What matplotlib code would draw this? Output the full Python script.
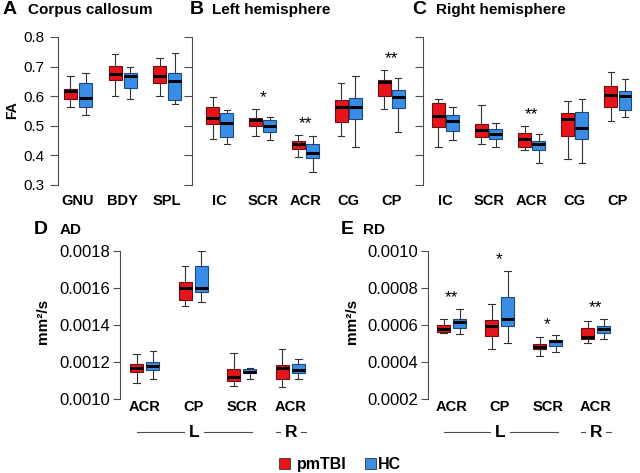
import matplotlib
matplotlib.use("Agg")
import matplotlib.pyplot as plt
from matplotlib.patches import Rectangle

plt.rcParams['font.family'] = ['Liberation Sans', 'DejaVu Sans']

# box stats per group: (whisker low, q1, median, q3, whisker high)
cc_labels = ["GNU", "BDY", "SPL"]
cc_pmtbi = [(0.564, 0.592, 0.618, 0.626, 0.667),
            (0.602, 0.654, 0.674, 0.702, 0.744),
            (0.602, 0.645, 0.667, 0.701, 0.730)]
cc_hc = [(0.536, 0.564, 0.594, 0.645, 0.680),
         (0.591, 0.628, 0.667, 0.680, 0.699),
         (0.575, 0.587, 0.651, 0.680, 0.746)]
cc_stars = ["", "", ""]

hemi_labels = ["IC", "SCR", "ACR", "CG", "CP"]
left_pmtbi = [(0.457, 0.506, 0.525, 0.562, 0.596),
              (0.465, 0.499, 0.519, 0.528, 0.558),
              (0.393, 0.422, 0.437, 0.447, 0.469),
              (0.465, 0.512, 0.562, 0.587, 0.643),
              (0.557, 0.601, 0.647, 0.656, 0.690)]
left_hc = [(0.440, 0.461, 0.510, 0.542, 0.555),
           (0.452, 0.479, 0.499, 0.519, 0.530),
           (0.345, 0.391, 0.407, 0.438, 0.465),
           (0.427, 0.524, 0.562, 0.594, 0.667),
           (0.479, 0.561, 0.598, 0.620, 0.663)]
left_stars = ["", "*", "**", "", "**"]

right_pmtbi = [(0.427, 0.497, 0.533, 0.578, 0.592),
               (0.437, 0.461, 0.485, 0.506, 0.571),
               (0.418, 0.429, 0.457, 0.476, 0.499),
               (0.387, 0.467, 0.522, 0.542, 0.584),
               (0.517, 0.563, 0.605, 0.634, 0.682)]
right_hc = [(0.452, 0.483, 0.517, 0.535, 0.564),
            (0.429, 0.454, 0.471, 0.489, 0.510),
            (0.375, 0.417, 0.437, 0.449, 0.472),
            (0.373, 0.454, 0.494, 0.547, 0.589),
            (0.530, 0.553, 0.600, 0.618, 0.657)]
right_stars = ["", "", "**", "", ""]

# AD and RD in 1e-3 mm^2/s
diff_labels = ["ACR", "CP", "SCR", "ACR"]
ad_pmtbi = [(1.088, 1.144, 1.169, 1.189, 1.241),
            (1.503, 1.535, 1.598, 1.634, 1.721),
            (1.070, 1.099, 1.121, 1.162, 1.250),
            (1.067, 1.110, 1.166, 1.182, 1.268)]
ad_hc = [(1.106, 1.155, 1.178, 1.200, 1.259),
         (1.523, 1.580, 1.598, 1.719, 1.800),
         (1.106, 1.139, 1.148, 1.160, 1.169),
         (1.106, 1.139, 1.157, 1.187, 1.218)]
ad_stars = ["", "", "", ""]

rd_pmtbi = [(0.555, 0.564, 0.577, 0.600, 0.631),
            (0.470, 0.541, 0.595, 0.627, 0.712),
            (0.432, 0.468, 0.483, 0.497, 0.533),
            (0.501, 0.524, 0.537, 0.582, 0.623)]
rd_hc = [(0.550, 0.582, 0.618, 0.634, 0.686),
         (0.501, 0.595, 0.632, 0.753, 0.892),
         (0.456, 0.486, 0.512, 0.519, 0.544),
         (0.526, 0.559, 0.580, 0.595, 0.634)]
rd_stars = ["**", "*", "*", "**"]

RED = "#e8141c"
BLUE = "#3a8de6"
AXCOL = "#4d4d4d"

W, H = 640, 473
fig = plt.figure(figsize=(6.4, 4.73), dpi=100)


def panel(left, right, top, bottom, xlim, ylim):
    ax = fig.add_axes([left / W, 1 - bottom / H, (right - left) / W, (bottom - top) / H])
    ax.set_xlim(*xlim)
    ax.set_ylim(*ylim)
    ax.patch.set_alpha(0)
    for s in ["top", "right", "bottom"]:
        ax.spines[s].set_visible(False)
    ax.spines["left"].set_bounds(*ylim)
    ax.spines["left"].set_color(AXCOL)
    ax.set_xticks([])
    return ax


def boxes(ax, pm, hc, stars, scale=1.0, off=0.17, width=0.29):
    for data, sign, color, edge in [(pm, -1, RED, "#6e1010"), (hc, 1, BLUE, "#1d4a78")]:
        stats = [dict(whislo=s[0] * scale, q1=s[1] * scale, med=s[2] * scale,
                      q3=s[3] * scale, whishi=s[4] * scale) for s in data]
        pos = [i + 1 + sign * off for i in range(len(data))]
        ax.bxp(stats, positions=pos, widths=width, patch_artist=True, showfliers=False,
               manage_ticks=False, capwidths=width * 0.5,
               boxprops=dict(facecolor=color, edgecolor=edge, linewidth=0.8),
               medianprops=dict(color="black", linewidth=2.2, solid_capstyle="butt"),
               whiskerprops=dict(color="#333333", linewidth=0.8),
               capprops=dict(color="#333333", linewidth=0.8))
    lo, hi = ax.get_ylim()
    for i, st in enumerate(stars):
        if st:
            top = max(pm[i][4], hc[i][4]) * scale
            ax.annotate(st, (i + 1, top + 0.11 * (hi - lo)), xytext=(0, -7),
                        textcoords="offset points", ha="center", va="baseline", fontsize=12.5)


def yaxis(ax, ticks, fmt=None, size=11, pad=4, length=6):
    ax.set_yticks(ticks)
    if fmt is None:
        ax.set_yticklabels([])
    else:
        ax.set_yticklabels([fmt % t for t in ticks])
    ax.tick_params(axis="y", length=length, width=0.8, color=AXCOL, labelsize=size, pad=pad)


def xcats(ax, labels, ypix, size=10.5):
    # ypix: label centre, in pixels below the axes bottom
    tr = ax.get_xaxis_transform()
    h = ax.get_position().height * H
    for i, lab in enumerate(labels):
        ax.text(i + 1, -ypix / h, lab, transform=tr, ha="center", va="center",
                fontsize=size, fontweight="bold")


fa_ticks = [0.3, 0.4, 0.5, 0.6, 0.7, 0.8]

# A
axA = panel(58, 185, 37, 185, (0.55, 3.4), (0.3, 0.8))
boxes(axA, cc_pmtbi, cc_hc, cc_stars)
yaxis(axA, fa_ticks, "%.1f")
xcats(axA, cc_labels, 16)

# B
axB = panel(192, 410, 37, 185, (0.35, 5.44), (0.3, 0.8))
boxes(axB, left_pmtbi, left_hc, left_stars, off=0.165, width=0.3)
yaxis(axB, fa_ticks)
xcats(axB, hemi_labels, 16)

# C
axC = panel(423, 636, 37, 185, (0.48, 5.42), (0.3, 0.8))
boxes(axC, right_pmtbi, right_hc, right_stars, off=0.165, width=0.3)
yaxis(axC, fa_ticks)
xcats(axC, hemi_labels, 16)

# D
ad_ticks = [0.0010, 0.0012, 0.0014, 0.0016, 0.0018]
axD = panel(120, 312, 251, 399, (0.49, 4.45), (0.0010, 0.0018))
boxes(axD, ad_pmtbi, ad_hc, ad_stars, scale=1e-3, off=0.167, width=0.27)
yaxis(axD, ad_ticks, "%.4f", size=12, pad=2, length=5)
xcats(axD, diff_labels, 8)

# E
rd_ticks = [0.0002, 0.0004, 0.0006, 0.0008, 0.0010]
axE = panel(428, 622, 251, 399, (0.51, 4.55), (0.0002, 0.0010))
boxes(axE, rd_pmtbi, rd_hc, rd_stars, scale=1e-3, off=0.167, width=0.27)
yaxis(axE, rd_ticks, "%.4f", size=12, pad=2, length=5)
xcats(axE, diff_labels, 8)

# L / R brackets under D and E
for ax in (axD, axE):
    tr = ax.get_xaxis_transform()
    for x0, x1 in [(0.84, 1.80), (2.22, 3.22), (3.70, 3.78), (4.22, 4.32)]:
        ax.plot([x0, x1], [-0.225, -0.225], transform=tr, color=AXCOL, lw=0.8, clip_on=False)
    ax.text(2.01, -0.225, "L", transform=tr, ha="center", va="center", fontsize=12.5, fontweight="bold")
    ax.text(4.01, -0.225, "R", transform=tr, ha="center", va="center", fontsize=12.5, fontweight="bold")

# panel letters and titles
for x, y, letter, tx, title in [(3, 10, "A", 28, "Corpus callosum"),
                                (190, 10, "B", 212, "Left hemisphere"),
                                (412, 10, "C", 436, "Right hemisphere"),
                                (34, 230, "D", 60, "AD"),
                                (341, 230, "E", 363, "RD")]:
    fig.text(x / W, 1 - y / H, letter, fontsize=14, fontweight="bold", va="center")
    fig.text(tx / W, 1 - y / H, title, fontsize=11, fontweight="bold", va="center")

fig.text(12 / W, 1 - 110 / H, "FA", rotation=90, fontsize=10, fontweight="bold", ha="center", va="center")
fig.text(43 / W, 1 - 321 / H, "mm²/s", rotation=90, fontsize=11, fontweight="bold", ha="center", va="center")
fig.text(352 / W, 1 - 321 / H, "mm²/s", rotation=90, fontsize=11, fontweight="bold", ha="center", va="center")

# legend
for sx, color, tx, name in [(279, RED, 297, "pmTBI"), (365, BLUE, 378, "HC")]:
    fig.add_artist(Rectangle((sx / W, 1 - 469 / H), 11 / W, 11 / H, transform=fig.transFigure,
                             facecolor=color, edgecolor="#333333", linewidth=0.6))
    fig.text(tx / W, 1 - 464 / H, name, fontsize=11.5, fontweight="bold", va="center")

fig.savefig("out.png", dpi=100)
